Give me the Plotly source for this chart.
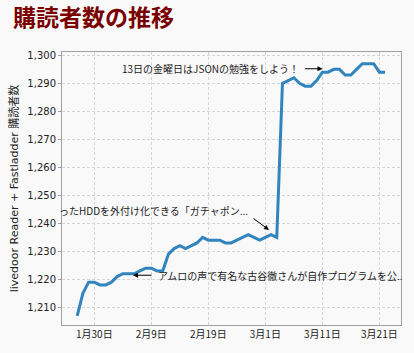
import plotly.graph_objects as go
import pandas as pd

# ---- data ----
start_date = "2009-01-27"
subscribers = [
    1207, 1215, 1219, 1219, 1218,            # Jan 27-31
    1218, 1219, 1221, 1222, 1222, 1222, 1223, 1224, 1224, 1223,  # Feb 1-10
    1223, 1229, 1231, 1232, 1231, 1232, 1233, 1235, 1234, 1234,  # Feb 11-20
    1234, 1233, 1233, 1234, 1235, 1236, 1235, 1234,              # Feb 21-28
    1235, 1236, 1235, 1290, 1291, 1292, 1290, 1289, 1289, 1291,  # Mar 1-10
    1294, 1294, 1295, 1295, 1293, 1293, 1295, 1297, 1297, 1297,  # Mar 11-20
    1294, 1294,                                                  # Mar 21-22
]
dates = pd.date_range(start_date, periods=len(subscribers), freq="D")

tick_dates = ["2009-01-30", "2009-02-09", "2009-02-19", "2009-03-01", "2009-03-11", "2009-03-21"]
tick_labels = ["1月30日", "2月9日", "2月19日", "3月1日", "3月11日", "3月21日"]
y_ticks = [1210, 1220, 1230, 1240, 1250, 1260, 1270, 1280, 1290, 1300]
y_tick_labels = ["1,210", "1,220", "1,230", "1,240", "1,250", "1,260", "1,270", "1,280", "1,290", "1,300"]

title_text = "購読者数の推移"
y_title = "livedoor Reader + Fastladder 購読者数"
note_json = "13日の金曜日はJSONの勉強をしよう！"
note_hdd = "ったHDDを外付け化できる「ガチャポン..."
note_amuro = "アムロの声で有名な古谷徹さんが自作プログラムを公.."

font_main = "DejaVu Sans, Noto Sans CJK JP, sans-serif"
font_jp = "Noto Sans CJK JP, DejaVu Sans, sans-serif"

fig = go.Figure()
fig.add_trace(go.Scatter(
    x=dates, y=subscribers, mode="lines",
    line=dict(color="#3184bd", width=3),
    hoverinfo="skip",
))

W, H = 414, 353
L, R, T, B = 62, 13, 52, 24
pw, ph = W - L - R, H - T - B

def px(x):
    return (x - L) / pw

def py(y):
    return (H - B - y) / ph

ann = []
ann.append(dict(text=note_json, xref="paper", yref="paper", x=px(301), y=py(69),
                xanchor="right", yanchor="middle", showarrow=False,
                font=dict(family=font_jp, size=10, color="#222")))
ann.append(dict(text=note_hdd, xref="paper", yref="paper", x=px(250), y=py(213),
                xanchor="right", yanchor="middle", showarrow=False,
                font=dict(family=font_jp, size=10, color="#222")))
ann.append(dict(text=note_amuro, xref="paper", yref="paper", x=px(156), y=py(279),
                xanchor="left", yanchor="middle", showarrow=False,
                font=dict(family=font_jp, size=10, color="#222")))
for hx, hy, ax, ay in [(322.5, 69, -19, 0), (269, 232.5, -17, -12.5), (133, 278.5, 20, 0)]:
    ann.append(dict(text="", xref="paper", yref="paper", x=px(hx), y=py(hy),
                    ax=ax, ay=ay, showarrow=True, arrowhead=2, arrowsize=1,
                    arrowwidth=1, arrowcolor="#000", standoff=0, startstandoff=0))

grid = dict(showgrid=True, gridcolor="#d6d6d6", griddash="3px,2px", gridwidth=1)

fig.update_layout(
    width=W, height=H,
    margin=dict(l=L, r=R, t=T, b=B, pad=0),
    paper_bgcolor="#f9f9f9",
    plot_bgcolor="#f9f9f9",
    showlegend=False,
    title=dict(text="<b>" + title_text + "</b>", xref="container", yref="container",
               x=13 / W, y=1 - 18 / H, xanchor="left", yanchor="middle",
               font=dict(family=font_jp, size=23, color="#7a0000")),
    annotations=ann,
    xaxis=dict(
        type="date",
        range=["2009-01-24 08:00", "2009-03-24 19:00"],
        tickvals=tick_dates, ticktext=tick_labels,
        showline=True, linecolor="#a0a0a0", linewidth=1, mirror=True,
        ticks="", tickfont=dict(family=font_jp, size=10, color="#222"),
        zeroline=False, **grid,
    ),
    yaxis=dict(
        range=[1203.7, 1301.2],
        tickvals=y_ticks, ticktext=y_tick_labels,
        showline=True, linecolor="#a0a0a0", linewidth=1, mirror=True,
        ticks="outside", ticklen=3, tickcolor="#a0a0a0",
        tickfont=dict(family=font_main, size=10, color="#222"),
        title=dict(text=y_title, standoff=6, font=dict(family=font_main, size=11, color="#222")),
        zeroline=False, **grid,
    ),
)

fig.write_html("out.html")
